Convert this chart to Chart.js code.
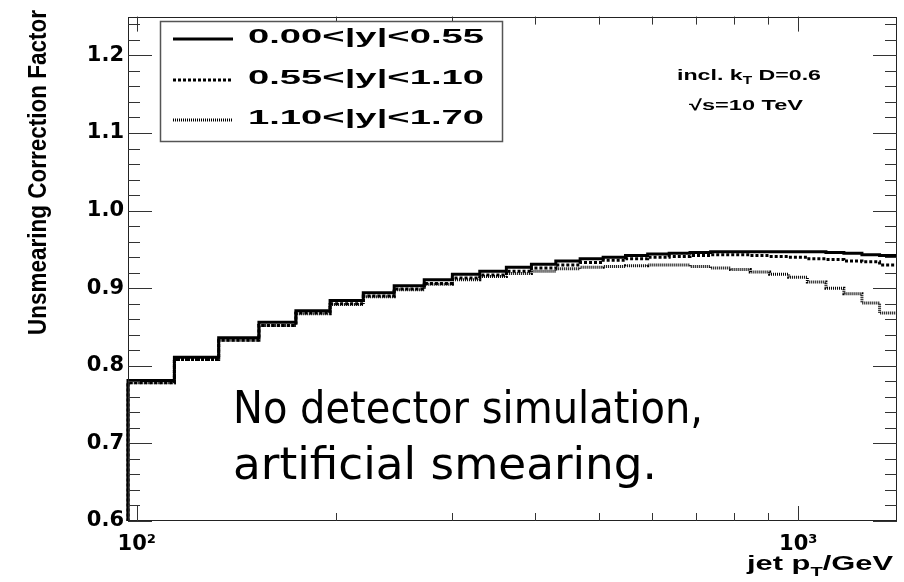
<!DOCTYPE html>
<html>
<head>
<meta charset="utf-8">
<script src="https://cdn.jsdelivr.net/npm/chart.js@4.4.1/dist/chart.umd.min.js"></script>
<style>
  body { margin: 0; background: #fff; }
  #wrap { width: 904px; height: 582px; }
</style>
</head>
<body>
<div id="wrap"><canvas id="myChart" width="904" height="582"></canvas></div>
<script>
// bin edges of the jet pT histogram (GeV)
const edges = [97, 114, 133, 153, 174, 196, 220, 245, 272, 300, 330, 362, 395, 430, 468,
  507, 548, 592, 638, 686, 737, 790, 846, 905, 967, 1032, 1101, 1172, 1248, 1327, 1410];

// correction factor per bin, one array per rapidity range
const central = [0.781, 0.811, 0.836, 0.856, 0.871, 0.884, 0.894, 0.903, 0.911, 0.918,
  0.922, 0.927, 0.931, 0.935, 0.938, 0.940, 0.942, 0.944, 0.945, 0.946,
  0.947, 0.947, 0.947, 0.947, 0.947, 0.947, 0.946, 0.945, 0.943, 0.942];
const middle = [0.778, 0.808, 0.833, 0.852, 0.868, 0.880, 0.890, 0.899, 0.906, 0.913,
  0.917, 0.922, 0.926, 0.930, 0.933, 0.936, 0.938, 0.940, 0.941, 0.942,
  0.943, 0.943, 0.942, 0.941, 0.940, 0.938, 0.937, 0.935, 0.934, 0.930];
const forward = [0.778, 0.808, 0.833, 0.852, 0.867, 0.879, 0.889, 0.898, 0.905, 0.911,
  0.915, 0.919, 0.922, 0.925, 0.927, 0.928, 0.929, 0.930, 0.930, 0.928,
  0.926, 0.924, 0.921, 0.918, 0.914, 0.908, 0.900, 0.893, 0.881, 0.868];

const seriesLabels = ['0.00<|y|<0.55', '0.55<|y|<1.10', '1.10<|y|<1.70'];
const yTicks = [0.6, 0.7, 0.8, 0.9, 1.0, 1.1, 1.2];
const xTicks = [100, 1000];
const xTickLabels = ['10²', '10³'];

// turn bin values into step points (left edge of each bin + closing edge)
function histPoints(vals) {
  const pts = [{x: edges[0], y: 0}];
  vals.forEach((v, i) => pts.push({x: edges[i], y: v}));
  pts.push({x: edges[edges.length - 1], y: vals[vals.length - 1]});
  return pts;
}

// text squeezed/stretched to a given width, like the ROOT output
function drawRich(ctx, segs, x, y, width, family, weight) {
  ctx.save();
  let natural = 0;
  segs.forEach(s => {
    ctx.font = `${weight} ${s.size}px ${family}`;
    natural += ctx.measureText(s.t).width;
  });
  ctx.translate(x, y);
  ctx.scale(width / natural, 1);
  ctx.fillStyle = '#000';
  ctx.textBaseline = 'alphabetic';
  ctx.textAlign = 'left';
  let cx = 0;
  segs.forEach(s => {
    ctx.font = `${weight} ${s.size}px ${family}`;
    ctx.fillText(s.t, cx, s.dy || 0);
    cx += ctx.measureText(s.t).width;
  });
  ctx.restore();
}

const helv = '"Liberation Sans", Arial, sans-serif';

const rootStyle = {
  id: 'rootStyle',
  afterDraw(chart) {
    const ctx = chart.ctx;
    const a = chart.chartArea;
    const xs = chart.scales.x, ys = chart.scales.y;
    ctx.save();

    // frame
    ctx.strokeStyle = '#222';
    ctx.lineWidth = 1;
    ctx.strokeRect(Math.round(a.left) + 0.5, Math.round(a.top) + 0.5,
      Math.round(a.right - a.left) - 1, Math.round(a.bottom - a.top) - 1);

    // y ticks, both sides, pointing inwards
    ctx.beginPath();
    for (let k = 0; k <= 32; k++) {
      const v = 0.6 + k * 0.02;
      const py = Math.round(ys.getPixelForValue(v)) + 0.5;
      const len = k % 5 === 0 ? 24 : 12;
      ctx.moveTo(a.left, py); ctx.lineTo(a.left + len, py);
      ctx.moveTo(a.right, py); ctx.lineTo(a.right - len, py);
    }
    // x ticks, top and bottom
    for (let d = 100; d <= 1000; d *= 10) {
      for (let m = 1; m <= 9; m++) {
        const v = d * m;
        if (v < xs.min || v > xs.max) continue;
        const px = Math.round(xs.getPixelForValue(v)) + 0.5;
        const len = m === 1 ? 15 : 8;
        ctx.moveTo(px, a.bottom); ctx.lineTo(px, a.bottom - len);
        ctx.moveTo(px, a.top); ctx.lineTo(px, a.top + len);
      }
    }
    ctx.strokeStyle = '#333';
    ctx.stroke();

    // legend box
    const lx = 160, ly = 21, lw = 342, lh = 120;
    ctx.fillStyle = '#fff';
    ctx.fillRect(lx, ly, lw, lh);
    ctx.strokeStyle = '#555';
    ctx.lineWidth = 1.5;
    ctx.strokeRect(lx + 0.5, ly + 0.5, lw, lh);
    const rows = [39, 80, 120];
    chart.data.datasets.forEach((ds, i) => {
      ctx.beginPath();
      ctx.strokeStyle = ds.borderColor;
      ctx.lineWidth = ds.borderWidth;
      ctx.setLineDash(ds.borderDash || []);
      ctx.moveTo(173, rows[i]); ctx.lineTo(233, rows[i]);
      ctx.stroke();
      ctx.setLineDash([]);
      drawRich(ctx, [{t: ds.label, size: 21}], 248, rows[i] + 4, 236, helv, 'bold');
    });

    // annotations
    drawRich(ctx, [{t: 'incl. k', size: 15}, {t: 'T', size: 10, dy: 4}, {t: ' D=0.6', size: 15}],
      677, 80, 144, helv, 'bold');
    drawRich(ctx, [{t: '√s=10 TeV', size: 15}], 689, 110, 114, helv, 'bold');
    drawRich(ctx, [{t: 'jet p', size: 20}, {t: 'T', size: 13, dy: 6}, {t: '/GeV', size: 20}],
      747, 570, 146, helv, 'bold');

    // big note
    const dv = '"DejaVu Sans", sans-serif';
    drawRich(ctx, [{t: 'No detector simulation,', size: 45}], 233, 423, 470, dv, 'normal');
    drawRich(ctx, [{t: 'artificial smearing.', size: 45}], 233, 479, 424, dv, 'normal');

    // y title
    ctx.save();
    ctx.translate(46, 335);
    ctx.rotate(-Math.PI / 2);
    drawRich(ctx, [{t: 'Unsmearing Correction Factor', size: 25}], 0, 0, 325, helv, 'bold');
    ctx.restore();

    ctx.restore();
  }
};

const tickFont = {family: '"DejaVu Sans", sans-serif', size: 21, weight: 'bold'};

new Chart(
  document.getElementById('myChart'),
  {
    type: 'line',
    data: {
      datasets: [
        {
          label: seriesLabels[0],
          data: histPoints(central),
          borderColor: '#000',
          borderWidth: 3,
          stepped: 'before',
          pointRadius: 0,
          clip: {left: 2, top: 0, right: 0, bottom: 0}
        },
        {
          label: seriesLabels[1],
          data: histPoints(middle),
          borderColor: '#000',
          borderWidth: 3,
          borderDash: [3, 2],
          stepped: 'before',
          pointRadius: 0,
          clip: {left: 2, top: 0, right: 0, bottom: 0}
        },
        {
          label: seriesLabels[2],
          data: histPoints(forward),
          borderColor: '#000',
          borderWidth: 3,
          borderDash: [1, 1],
          stepped: 'before',
          pointRadius: 0,
          clip: {left: 2, top: 0, right: 0, bottom: 0}
        }
      ]
    },
    options: {
      responsive: false,
      animation: false,
      layout: {padding: {top: 8, right: 7, left: 0, bottom: 0}},
      plugins: {legend: {display: false}, tooltip: {enabled: false}},
      scales: {
        x: {
          type: 'logarithmic',
          min: 97,
          max: 1410,
          grid: {display: false, drawTicks: false},
          border: {display: false},
          afterFit: s => { s.height = 61; },
          afterBuildTicks: s => { s.ticks = xTicks.map(v => ({value: v})); },
          ticks: {
            autoSkip: false,
            maxRotation: 0,
            padding: 11,
            color: '#000',
            font: tickFont,
            callback: (v, i) => xTickLabels[i]
          }
        },
        y: {
          min: 0.6,
          max: 1.25,
          grid: {display: false, drawTicks: false},
          border: {display: false},
          afterFit: s => { s.width = 128; },
          afterBuildTicks: s => { s.ticks = yTicks.map(v => ({value: v})); },
          ticks: {
            padding: 4,
            color: '#000',
            font: tickFont,
            callback: v => v.toFixed(1)
          }
        }
      }
    },
    plugins: [rootStyle]
  }
);
</script>
</body>
</html>
